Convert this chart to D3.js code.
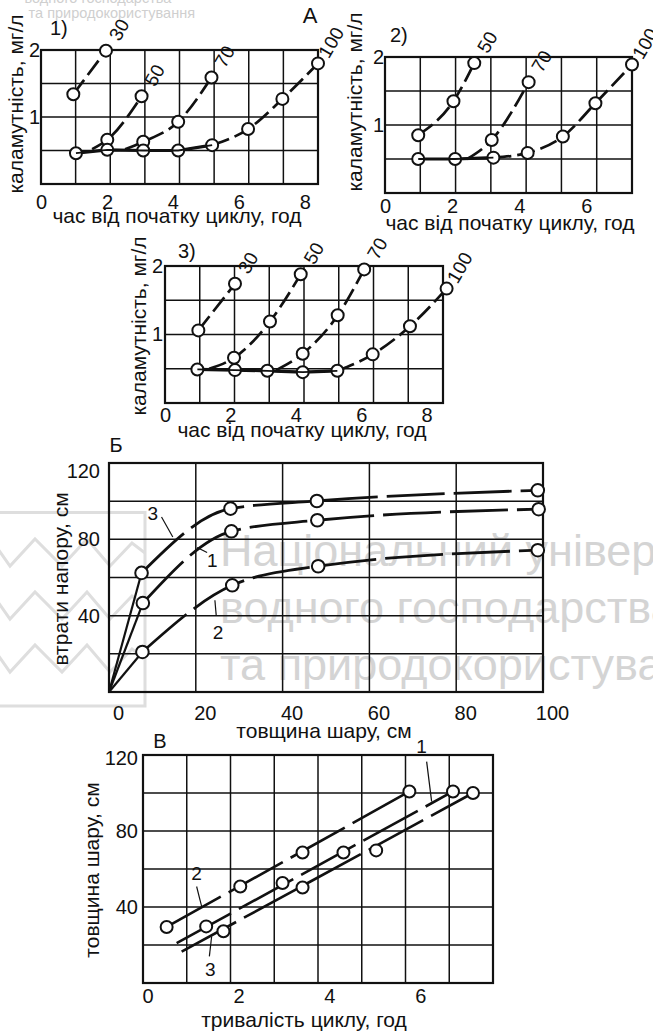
<!DOCTYPE html>
<html>
<head>
<meta charset="utf-8">
<script src="https://cdn.jsdelivr.net/npm/d3@7"></script>
<style>
  html, body { margin: 0; padding: 0; background: #fff; }
  svg { display: block; font-family: "Liberation Sans", Arial, sans-serif; }
</style>
</head>
<body>
<svg id="fig" width="653" height="1036"></svg>
<script>
// ---------------- data ----------------
// А: filtrate turbidity (mg/l) vs time from start of filter cycle (h), layer thickness 30/50/70/100 cm
const hourTicksA = [0, 2, 4, 6, 8];
const hourTicksA2 = [0, 2, 4, 6];
const turbTicksA = [1, 2];

const a1Base = [[1.06, 0.46], [2.01, 0.51], [3.10, 0.50], [4.16, 0.50], [5.19, 0.58]];
const a1Series = [
  { label: "30",  pts: [[0.98, 1.34], [1.97, 1.99]] },
  { label: "50",  from: [1.55, 0.52], pts: [[2.01, 0.66], [3.05, 1.31]] },
  { label: "70",  from: [2.55, 0.52], pts: [[3.10, 0.63], [4.16, 0.93], [5.17, 1.59]] },
  { label: "100", from: [5.19, 0.58], pts: [[6.28, 0.82], [7.32, 1.27], [8.40, 1.80]] }
];

const a2Base = [[0.99, 0.50], [2.09, 0.50], [3.23, 0.52]];
const a2Series = [
  { label: "50",  pts: [[0.99, 0.85], [2.04, 1.35], [2.66, 1.91]] },
  { label: "70",  from: [2.45, 0.50], pts: [[3.18, 0.78], [4.28, 1.63]] },
  { label: "100", from: [3.23, 0.52], pts: [[4.25, 0.59], [5.30, 0.83], [6.27, 1.32], [7.36, 1.89]] }
];

const a3Base = [[0.99, 0.49], [2.14, 0.48], [3.13, 0.47], [4.21, 0.45], [5.27, 0.47]];
const a3Series = [
  { label: "30",  pts: [[1.02, 1.06], [2.14, 1.74]] },
  { label: "50",  from: [1.35, 0.50], pts: [[2.11, 0.66], [3.21, 1.19], [4.15, 1.88]] },
  { label: "70",  from: [3.40, 0.48], pts: [[4.21, 0.72], [5.28, 1.28], [6.09, 1.95]] },
  { label: "100", from: [5.27, 0.47], pts: [[6.35, 0.71], [7.49, 1.12], [8.61, 1.67]] }
];

// Б: head loss (cm) vs layer thickness (cm), curves 1–3
const layerTicksB = [0, 20, 40, 60, 80, 100];
const headTicksB = [40, 80, 120];
const headOrigin = [0, 0];
const headCurves = [
  { label: "3", pts: [[7.5, 62.4], [28.0, 96.1], [47.9, 100.1], [98.8, 105.7]],
    at: [10.1, 93.5], lead: [[12.1, 91.7], [14.7, 81.2]] },
  { label: "1", pts: [[7.8, 46.6], [28.2, 84.2], [48.0, 90.0], [99.0, 95.8]],
    at: [23.8, 69.0], lead: [[20.3, 75.7], [22.6, 73.1]] },
  { label: "2", pts: [[7.7, 21.0], [28.4, 55.9], [48.2, 65.9], [98.8, 74.3]],
    at: [25.1, 31.4], lead: [[24.4, 48.1], [24.7, 40.2]] }
];

// В: layer thickness (cm) vs filter cycle duration (h), lines 1–3
const cycleTicksV = [0, 2, 4, 6];
const layerTicksV = [40, 80, 120];
const cycleLines = [
  { label: "2", start: null,        pts: [[0.42, 29.5], [2.04, 50.8], [3.41, 68.7], [5.76, 100.8]],
    at: [1.08, 57.8], lead: [[1.08, 50.8], [1.19, 40.3]] },
  { label: "1", start: [0.64, 21.0], pts: [[1.29, 29.8], [2.97, 52.6], [4.31, 68.7], [6.72, 100.8]],
    at: [6.03, 124.4], lead: [[6.14, 116.5], [6.25, 95.5]] },
  { label: "3", start: [0.75, 16.5], pts: [[1.67, 27.2], [3.41, 50.3], [5.03, 69.8], [7.16, 100.0]],
    at: [1.38, 7.0], lead: [[1.41, 24.5], [1.36, 14.0]] }
];

// ---------------- drawing ----------------
const svg = d3.select("#fig");
const INK = "#111";
const FONT = "\"Liberation Sans\", Arial, sans-serif";

// faint institutional watermark behind the figure
const wm = svg.append("g").attr("fill", "#d4d4d4").style("font-family", FONT);
wm.append("text").attr("x", 98).attr("y", 3).attr("text-anchor", "middle")
  .attr("font-size", 14.5).attr("fill", "#cfcfcf").text("водного господарства");
wm.append("text").attr("x", 195).attr("y", 18).attr("text-anchor", "end")
  .attr("font-size", 14.5).attr("fill", "#cfcfcf").text("та природокористування");
[["Національний університет", 566], ["водного господарства", 623], ["та природокористування", 680]]
  .forEach(([t, b]) => wm.append("text").attr("x", 220).attr("y", b)
    .attr("font-size", 45).text(t));

const logo = svg.append("g").attr("fill", "none").attr("stroke", "#dedede").attr("stroke-width", 3);
logo.append("path").attr("d", "M-5,512.5 H145 V706 H-5");
[0, 53, 106].forEach(off => {
  const top = 539 + off, bot = 566 + off;
  logo.append("path").attr("d",
    `M-2,${top + 10} L10,${bot} L35,${top} L62,${bot} L87,${top} L110,${bot} L132,${top + 4} L145,${top + 14}`);
});

function panel(o) {
  const g = svg.append("g");
  const x = d3.scaleLinear().domain(o.xDomain).range([o.left, o.right]);
  const y = d3.scaleLinear().domain(o.yDomain).range([o.bottom, o.top]);

  // grid: equal cells across the frame
  const gx = d3.range(1, o.cols).map(i => o.xDomain[0] + i * (o.xDomain[1] - o.xDomain[0]) / o.cols);
  const gy = d3.range(1, o.rows).map(i => o.yDomain[0] + i * (o.yDomain[1] - o.yDomain[0]) / o.rows);
  g.selectAll(".gx").data(gx).join("line")
    .attr("x1", d => x(d)).attr("x2", d => x(d)).attr("y1", o.top).attr("y2", o.bottom)
    .attr("stroke", INK).attr("stroke-width", 1.5);
  g.selectAll(".gy").data(gy).join("line")
    .attr("y1", d => y(d)).attr("y2", d => y(d)).attr("x1", o.left).attr("x2", o.right)
    .attr("stroke", INK).attr("stroke-width", 1.5);
  g.append("rect").attr("x", o.left).attr("y", o.top)
    .attr("width", o.right - o.left).attr("height", o.bottom - o.top)
    .attr("fill", "none").attr("stroke", INK).attr("stroke-width", 2.2);

  // axes (labels only, frame drawn above)
  const ax = g.append("g").attr("transform", `translate(0,${o.bottom})`)
    .call(d3.axisBottom(x).tickValues(o.xTicks).tickSize(0).tickPadding(o.xPad).tickFormat(d3.format("d")));
  const ay = g.append("g").attr("transform", `translate(${o.left},0)`)
    .call(d3.axisLeft(y).tickValues(o.yTicks).tickSize(0).tickPadding(o.yPad).tickFormat(d3.format("d")));
  [ax, ay].forEach(a => {
    a.select(".domain").remove();
    a.attr("font-size", null).attr("font-family", null);
    a.selectAll("text").attr("font-size", 20).style("font-family", FONT).attr("fill", INK);
  });
  if (o.xDx) ax.selectAll("text").attr("dx", o.xDx);
  if (o.topDy) ay.selectAll("text").filter(d => d === o.yDomain[1]).attr("dy", o.topDy);

  // axis titles
  g.append("text").attr("x", o.xTitlePos[0]).attr("y", o.xTitlePos[1])
    .attr("text-anchor", "middle").attr("font-size", 21).attr("fill", INK).text(o.xTitle);
  g.append("text").attr("transform", `translate(${o.yTitlePos[0]},${o.yTitlePos[1]}) rotate(-90)`)
    .attr("text-anchor", "middle").attr("font-size", 21).attr("fill", INK).text(o.yTitle);
  return { g, x, y };
}

function tag(text, px, py, size) {
  svg.append("text").attr("x", px).attr("y", py).attr("font-size", size)
    .attr("fill", INK).attr("text-anchor", "middle").text(text);
}

// ---- panels А ----
const turbTitle = "каламутність, мг/л";
const timeTitle = "час від початку циклу, год";

function turbidityPanel(p, base, series) {
  const { g, x, y } = p;
  const curve = d3.line().x(d => x(d[0])).y(d => y(d[1])).curve(d3.curveMonotoneX);
  const straight = d3.line().x(d => x(d[0])).y(d => y(d[1]));
  series.forEach(s => {
    const pts = s.from ? [s.from, ...s.pts] : s.pts;
    g.append("path").attr("d", curve(pts)).attr("fill", "none")
      .attr("stroke", INK).attr("stroke-width", 2.7).attr("stroke-dasharray", "18 6");
  });
  g.append("path").attr("d", straight(base)).attr("fill", "none")
    .attr("stroke", INK).attr("stroke-width", 3.2);
  const all = series.flatMap(s => s.pts).concat(base);
  g.selectAll(".pt").data(all).join("circle")
    .attr("cx", d => x(d[0])).attr("cy", d => y(d[1])).attr("r", 6)
    .attr("fill", "#fff").attr("stroke", INK).attr("stroke-width", 2);
  // baseline runs through its markers
  g.append("path").attr("d", straight(base)).attr("fill", "none")
    .attr("stroke", INK).attr("stroke-width", 1.8);
  series.forEach(s => {
    const last = s.pts[s.pts.length - 1];
    g.append("text")
      .attr("transform", `translate(${x(last[0]) + 13},${y(last[1]) - 21}) rotate(-60)`)
      .attr("text-anchor", "middle").attr("dy", "0.35em").attr("font-size", 19)
      .attr("fill", INK).text(s.label);
  });
}

const pA1 = panel({ left: 41, right: 318, top: 50, bottom: 184, xDomain: [0, 8.4], yDomain: [0, 2],
  cols: 8, rows: 4, xTicks: hourTicksA, yTicks: turbTicksA, xPad: 10.8, yPad: 1,
  xTitle: timeTitle, xTitlePos: [177, 223], yTitle: turbTitle, yTitlePos: [23, 104] });
turbidityPanel(pA1, a1Base, a1Series);

const pA2 = panel({ left: 385, right: 632, top: 57, bottom: 193, xDomain: [0, 7.36], yDomain: [0, 2],
  cols: 7, rows: 4, xTicks: hourTicksA2, yTicks: turbTicksA, xPad: 5.8, yPad: 1,
  xTitle: timeTitle, xTitlePos: [510, 230], yTitle: turbTitle, yTitlePos: [362, 102] });
turbidityPanel(pA2, a2Base, a2Series);

const pA3 = panel({ left: 165, right: 443, top: 266, bottom: 403, xDomain: [0, 8.5], yDomain: [0, 2],
  cols: 8, rows: 4, xTicks: hourTicksA, yTicks: turbTicksA, xPad: 4.8, yPad: 2,
  xTitle: timeTitle, xTitlePos: [302, 437], yTitle: turbTitle, yTitlePos: [146, 326] });
turbidityPanel(pA3, a3Base, a3Series);

tag("А", 310, 23, 22);
svg.append("text").attr("x", 50).attr("y", 35).attr("font-size", 20).attr("fill", INK).text("1)");
svg.append("text").attr("x", 390).attr("y", 42).attr("font-size", 20).attr("fill", INK).text("2)");
svg.append("text").attr("x", 178).attr("y", 258).attr("font-size", 20).attr("fill", INK).text("3)");

// ---- panel Б ----
const pB = panel({ left: 109, right: 543, top: 463, bottom: 692, xDomain: [0, 100], yDomain: [0, 120],
  cols: 5, rows: 6, xTicks: layerTicksB, yTicks: headTicksB, xPad: 14, yPad: 9, xDx: 9, topDy: "0.7em",
  xTitle: "товщина шару, см", xTitlePos: [324, 738], yTitle: "втрати напору, см", yTitlePos: [68, 579] });
{
  const { g, x, y } = pB;
  const curve = d3.line().x(d => x(d[0])).y(d => y(d[1])).curve(d3.curveMonotoneX);
  const straight = d3.line().x(d => x(d[0])).y(d => y(d[1]));
  headCurves.forEach(c => {
    g.append("path").attr("d", straight([headOrigin, c.pts[0]])).attr("fill", "none")
      .attr("stroke", INK).attr("stroke-width", 2.2);
    g.append("path").attr("d", curve(c.pts)).attr("fill", "none")
      .attr("stroke", INK).attr("stroke-width", 2.8).attr("stroke-dasharray", "58 9");
    g.append("path").attr("d", straight(c.lead)).attr("fill", "none")
      .attr("stroke", INK).attr("stroke-width", 1.2);
    g.append("text").attr("x", x(c.at[0])).attr("y", y(c.at[1])).attr("dy", "0.35em")
      .attr("text-anchor", "middle").attr("font-size", 19).attr("fill", INK).text(c.label);
  });
  g.selectAll(".pt").data(headCurves.flatMap(c => c.pts)).join("circle")
    .attr("cx", d => x(d[0])).attr("cy", d => y(d[1])).attr("r", 6.3)
    .attr("fill", "#fff").attr("stroke", INK).attr("stroke-width", 2);
}
tag("Б", 116, 452, 20);

// ---- panel В ----
const pV = panel({ left: 143, right: 493, top: 755, bottom: 983, xDomain: [-0.1, 7.6], yDomain: [0, 120],
  cols: 8, rows: 6, xTicks: cycleTicksV, yTicks: layerTicksV, xPad: 5.5, yPad: 5, topDy: "0.45em",
  xTitle: "тривалість циклу, год", xTitlePos: [304, 1027], yTitle: "товщина шару, см", yTitlePos: [99, 870] });
{
  const { g, x, y } = pV;
  const straight = d3.line().x(d => x(d[0])).y(d => y(d[1]));
  cycleLines.forEach(c => {
    const pts = c.start ? [c.start, ...c.pts] : c.pts;
    g.append("path").attr("d", straight([pts[0], pts[pts.length - 1]])).attr("fill", "none")
      .attr("stroke", INK).attr("stroke-width", 2.6).attr("stroke-dasharray", "62 9");
    g.append("path").attr("d", straight(c.lead)).attr("fill", "none")
      .attr("stroke", INK).attr("stroke-width", 1.2);
    g.append("text").attr("x", x(c.at[0])).attr("y", y(c.at[1])).attr("dy", "0.35em")
      .attr("text-anchor", "middle").attr("font-size", 19).attr("fill", INK).text(c.label);
  });
  g.selectAll(".pt").data(cycleLines.flatMap(c => c.pts)).join("circle")
    .attr("cx", d => x(d[0])).attr("cy", d => y(d[1])).attr("r", 6)
    .attr("fill", "#fff").attr("stroke", INK).attr("stroke-width", 2);
}
tag("В", 160, 748, 20);
</script>
</body>
</html>
